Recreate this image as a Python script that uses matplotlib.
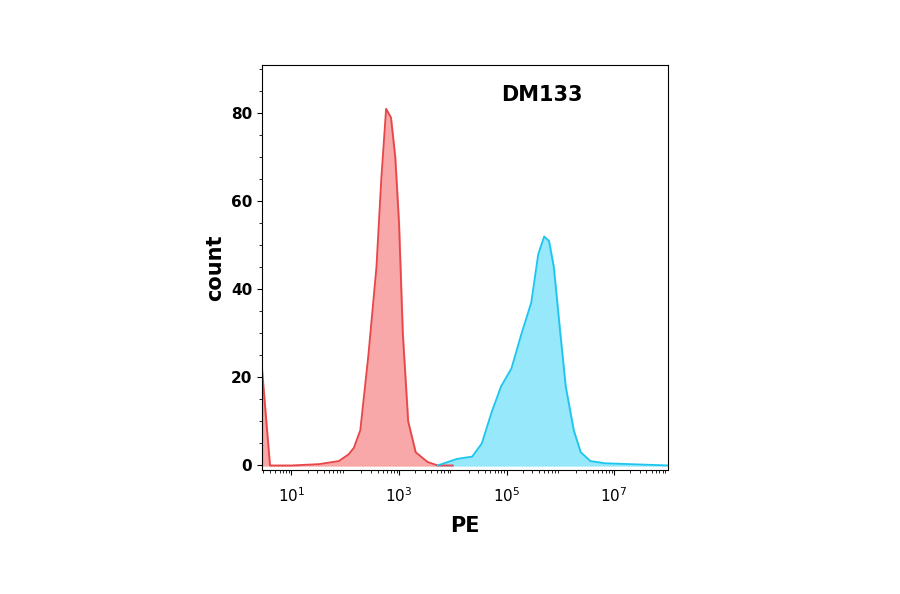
import matplotlib.pyplot as plt
import numpy as np
from matplotlib.ticker import LogLocator, MultipleLocator, NullFormatter

# log10(PE) positions and counts
red_logx = [0.45, 0.6, 1.0, 1.51, 1.88, 2.06, 2.16, 2.28, 2.43, 2.58, 2.67, 2.76,
            2.85, 2.93, 3.0, 3.07, 3.17, 3.31, 3.53, 3.72, 4.0]
red_y = [22, 0, 0, 0.3, 1, 2.5, 4, 8, 25, 45, 65, 81, 79, 70, 55, 30, 10, 3, 0.8, 0, 0]

blue_logx = [3.72, 4.08, 4.36, 4.54, 4.72, 4.9, 5.09, 5.28, 5.46, 5.59, 5.7, 5.79,
             5.88, 6.0, 6.1, 6.25, 6.38, 6.56, 6.83, 8.0]
blue_y = [0, 1.5, 2, 5, 12, 18, 22, 30, 37, 48, 52, 51, 45, 30, 18, 8, 3, 1, 0.5, 0]

fig = plt.figure(figsize=(9, 5.94), dpi=100)
ax = fig.add_axes([0.291, 0.209, 0.451, 0.682])

rx = 10 ** np.array(red_logx)
bx = 10 ** np.array(blue_logx)
ax.fill_between(rx, red_y, color='#f8a3a3', alpha=0.95)
ax.plot(rx, red_y, color='#e8474a', lw=1.3)
ax.fill_between(bx, blue_y, color='#92e7fb', alpha=0.95)
ax.plot(bx, blue_y, color='#1ec6ef', lw=1.3)

ax.set_xscale('log')
ax.set_xlim(10 ** 0.45, 10 ** 8.0)
ax.set_ylim(-1, 91)
ax.set_xticks([1e1, 1e3, 1e5, 1e7])
ax.xaxis.set_minor_locator(LogLocator(base=10, subs=np.arange(2, 10), numticks=20))
ax.xaxis.set_minor_formatter(NullFormatter())
ax.set_yticks([0, 20, 40, 60, 80])
ax.yaxis.set_minor_locator(MultipleLocator(5))
ax.tick_params(labelsize=11)
ax.tick_params(axis='x', pad=8)
for lab in ax.get_yticklabels():
    lab.set_fontweight('bold')

ax.set_xlabel('PE', fontsize=15, fontweight='bold', labelpad=8)
ax.set_ylabel('count', fontsize=15, fontweight='bold')
ax.text(0.59, 0.91, 'DM133', transform=ax.transAxes, fontsize=15, fontweight='bold')

plt.savefig('out.png')
